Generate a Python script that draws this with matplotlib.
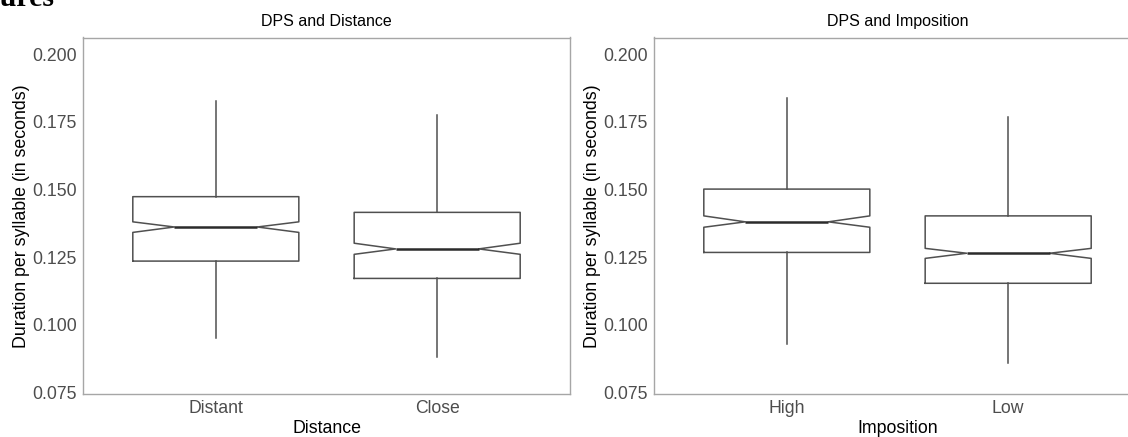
import matplotlib
matplotlib.use("Agg")
import matplotlib.pyplot as plt

plt.rcParams['font.family'] = ['Liberation Sans', 'DejaVu Sans']

# box summaries (seconds)
distance_groups = ["Distant", "Close"]
distance_whislo = [0.0951, 0.0883]
distance_q1 = [0.1236, 0.1172]
distance_cilo = [0.1342, 0.1261]
distance_med = [0.1362, 0.1281]
distance_cihi = [0.1381, 0.1302]
distance_q3 = [0.1474, 0.1416]
distance_whishi = [0.1828, 0.1775]

imposition_groups = ["High", "Low"]
imposition_whislo = [0.0928, 0.0861]
imposition_q1 = [0.1268, 0.1154]
imposition_cilo = [0.1361, 0.1246]
imposition_med = [0.1381, 0.1265]
imposition_cihi = [0.1403, 0.1283]
imposition_q3 = [0.1502, 0.1403]
imposition_whishi = [0.1837, 0.1769]

y_ticks = [0.075, 0.100, 0.125, 0.150, 0.175, 0.200]

W, H = 1128, 437


def make_stats(labels, whislo, q1, cilo, med, cihi, q3, whishi):
    stats = []
    for i in range(len(labels)):
        stats.append(dict(label=labels[i], whislo=whislo[i], q1=q1[i], cilo=cilo[i],
                          med=med[i], cihi=cihi[i], q3=q3[i], whishi=whishi[i], fliers=[]))
    return stats


def draw_panel(ax, stats, title, xlabel):
    line_col = "#505050"
    ax.bxp(stats, positions=[1, 2], widths=0.75, shownotches=True, showcaps=False,
           showfliers=False,
           boxprops=dict(color=line_col, linewidth=1.1),
           whiskerprops=dict(color=line_col, linewidth=1.1),
           medianprops=dict(color="#2b2b2b", linewidth=1.8))
    ax.set_xlim(0.4, 2.6)
    ax.set_ylim(0.0745, 0.2062)
    ax.set_yticks(y_ticks)
    ax.set_yticklabels([f"{t:.3f}" for t in y_ticks])
    ax.tick_params(length=0, labelsize=12.7, labelcolor="#4d4d4d")
    ax.tick_params(axis='y', pad=4.5)
    ax.tick_params(axis='x', pad=4.5)
    for sp in ax.spines.values():
        sp.set_color("#a6a6a6")
        sp.set_linewidth(1.0)
    ax.set_title(title, fontsize=11.5, pad=8)
    ax.set_xlabel(xlabel, fontsize=12.8, labelpad=2)
    ax.set_ylabel("Duration per syllable (in seconds)", fontsize=12.8, labelpad=1.5)


fig = plt.figure(figsize=(W / 100, H / 100), dpi=100)
ax1 = fig.add_axes([83 / W, (H - 394) / H, 487 / W, 356.5 / H])
ax2 = fig.add_axes([654 / W, (H - 394) / H, 487 / W, 356.5 / H])

draw_panel(ax1, make_stats(distance_groups, distance_whislo, distance_q1, distance_cilo,
                           distance_med, distance_cihi, distance_q3, distance_whishi),
           "DPS and Distance", "Distance")
draw_panel(ax2, make_stats(imposition_groups, imposition_whislo, imposition_q1, imposition_cilo,
                           imposition_med, imposition_cihi, imposition_q3, imposition_whishi),
           "DPS and Imposition", "Imposition")

# heading of the page, cut off by the crop as in the source
fig.text(-42 / W, 1 - 6 / H, "Figures", family=["Liberation Serif", "DejaVu Serif"],
         fontweight="bold", fontsize=21.6, va="baseline", ha="left")

fig.savefig("out.png", dpi=100)
